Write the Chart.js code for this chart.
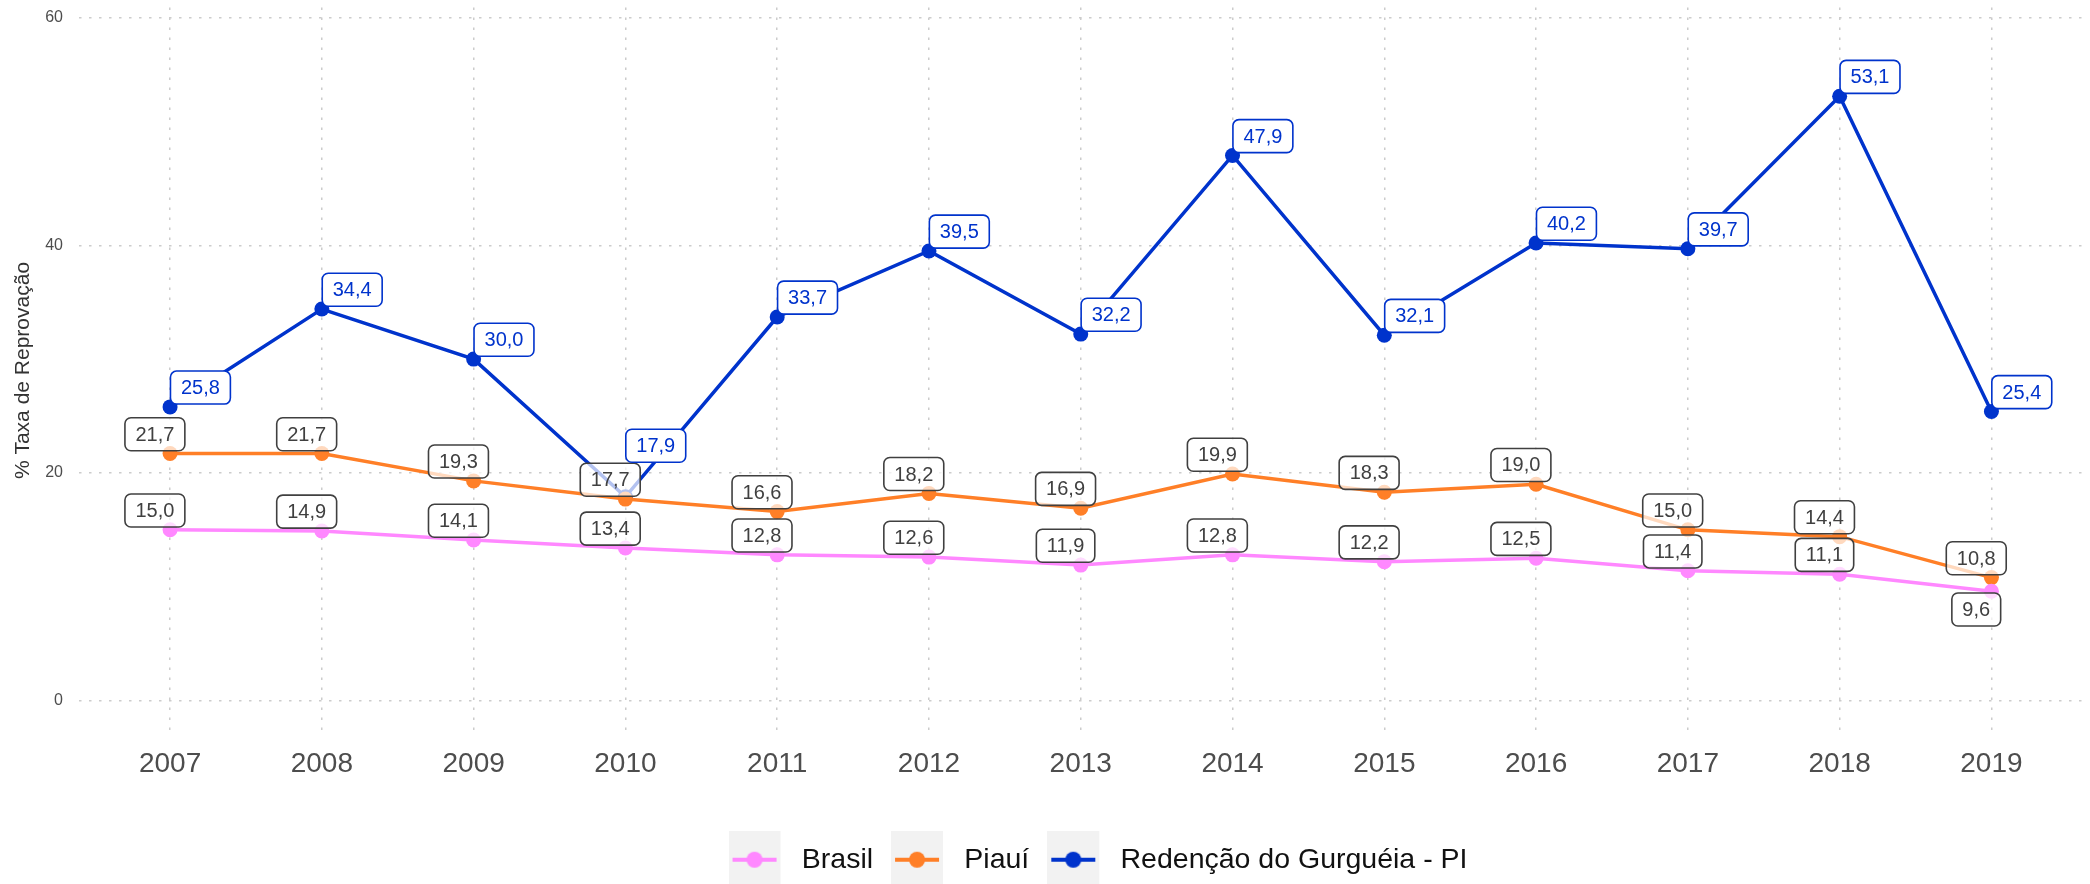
<!DOCTYPE html>
<html lang="pt-BR">
<head>
<meta charset="utf-8">
<title>Taxa de Reprovação</title>
<script src="https://cdn.jsdelivr.net/npm/chart.js@4.4.1/dist/chart.umd.min.js"></script>
<style>
  html, body { margin: 0; padding: 0; background: #fff; }
  #chart { display: block; }
</style>
</head>
<body>
<canvas id="chart" width="2090" height="884"></canvas>
<script>
const anos = [2007, 2008, 2009, 2010, 2011, 2012, 2013, 2014, 2015, 2016, 2017, 2018, 2019];
const brasil = [15.0, 14.9, 14.1, 13.4, 12.8, 12.6, 11.9, 12.8, 12.2, 12.5, 11.4, 11.1, 9.6];
const piaui = [21.7, 21.7, 19.3, 17.7, 16.6, 18.2, 16.9, 19.9, 18.3, 19.0, 15.0, 14.4, 10.8];
const redencao = [25.8, 34.4, 30.0, 17.9, 33.7, 39.5, 32.2, 47.9, 32.1, 40.2, 39.7, 53.1, 25.4];
const yTicks = [0, 20, 40, 60];

const FONT = "'Liberation Sans', Arial, Helvetica, sans-serif";
const ROSA = '#ff88ff';
const LARANJA = '#ff7f27';
const AZUL = '#0033cc';
const CINZA = '#404040';

const fmt = v => v.toFixed(1).replace('.', ',');
const toPoints = values => values.map((v, i) => ({x: anos[i], y: v}));

// legend key: grey background square with a line and a dot
function legendKey(color) {
  const c = document.createElement('canvas');
  c.width = 59;
  c.height = 58;
  const g = c.getContext('2d');
  g.fillStyle = '#f2f2f2';
  g.fillRect(0, 0, 52, 58);
  g.strokeStyle = color;
  g.lineWidth = 4;
  g.beginPath();
  g.moveTo(4, 29);
  g.lineTo(48, 29);
  g.stroke();
  g.fillStyle = color;
  g.beginPath();
  g.arc(26, 29, 8, 0, Math.PI * 2);
  g.fill();
  return c;
}

function overlaps(a, b) {
  return a.l < b.r && a.r > b.l && a.t < b.b && a.b > b.t;
}

// boxed value labels, drawn after the lines
const valueLabels = {
  id: 'valueLabels',
  afterDatasetsDraw(chart) {
    const ctx = chart.ctx;
    const xs = chart.scales.x;
    const ys = chart.scales.y;
    const placed = [];
    ctx.save();
    ctx.font = '20px ' + FONT;
    ctx.textAlign = 'center';
    ctx.textBaseline = 'middle';
    for (const di of [1, 0, 2]) {
      const ds = chart.data.datasets[di];
      const lab = ds.valueLabel;
      ds.data.forEach(p => {
        const text = fmt(p.y);
        const w = ctx.measureText(text).width + 21;
        const h = 33;
        const cx = xs.getPixelForValue(p.x + lab.nudgeX);
        let cy = ys.getPixelForValue(p.y + 1.7);
        let r = {l: cx - w / 2, r: cx + w / 2, t: cy - h / 2, b: cy + h / 2};
        const hit = placed.find(o => overlaps(r, o));
        if (hit) {
          if (lab.dodge === 'below') {
            cy = ys.getPixelForValue(p.y - 1.6);
          } else {
            cy = hit.t - h / 2 - 1;
          }
          r = {l: cx - w / 2, r: cx + w / 2, t: cy - h / 2, b: cy + h / 2};
        }
        placed.push(r);

        ctx.beginPath();
        ctx.roundRect(r.l, r.t, w, h, 6);
        ctx.fillStyle = lab.fill;
        ctx.fill();
        ctx.lineWidth = 1.6;
        ctx.strokeStyle = lab.color;
        ctx.stroke();
        ctx.fillStyle = lab.color;
        ctx.fillText(text, cx, cy + 1);
      });
    }
    ctx.restore();
  }
};

// move the legend row a little to the right
const legendShift = {
  id: 'legendShift',
  afterLayout(chart) {
    if (chart.legend) {
      chart.legend.left += 53;
      chart.legend.right += 53;
    }
  }
};

function serie(label, values, color, valueLabel) {
  return {
    label,
    data: toPoints(values),
    borderColor: color,
    backgroundColor: color,
    borderWidth: 3.5,
    pointRadius: 7.5,
    pointHoverRadius: 7.5,
    pointBorderWidth: 0,
    tension: 0,
    valueLabel
  };
}

new Chart(document.getElementById('chart'), {
  type: 'line',
  data: {
    datasets: [
      serie('Brasil', brasil, ROSA, {nudgeX: -0.1, color: CINZA, fill: 'rgba(255,255,255,0.7)', dodge: 'below'}),
      serie('Piauí', piaui, LARANJA, {nudgeX: -0.1, color: CINZA, fill: 'rgba(255,255,255,0.7)', dodge: 'below'}),
      serie('Redenção do Gurguéia - PI', redencao, AZUL, {nudgeX: 0.2, color: AZUL, fill: '#ffffff', dodge: 'up'})
    ]
  },
  options: {
    responsive: false,
    animation: false,
    devicePixelRatio: 1,
    layout: {padding: {top: 7, left: 0, right: 0, bottom: 0}},
    scales: {
      x: {
        type: 'linear',
        min: 2006.4,
        max: 2019.6,
        afterBuildTicks: s => { s.ticks = anos.map(v => ({value: v})); },
        afterFit: s => { s.height = 94; },
        grid: {color: '#cccccc', lineWidth: 1.5, drawTicks: false},
        border: {display: false, dash: [2.5, 7.5]},
        ticks: {
          color: '#4d4d4d',
          font: {size: 28, family: FONT},
          padding: 14,
          maxRotation: 0,
          autoSkip: false,
          callback: v => String(v)
        }
      },
      y: {
        min: -2.9,
        max: 60.9,
        afterBuildTicks: s => { s.ticks = yTicks.map(v => ({value: v})); },
        afterFit: s => {
          s.width = 79;
          s.paddingTop = 0;
          s.paddingBottom = 0;
        },
        grid: {color: '#cccccc', lineWidth: 1.5, drawTicks: false},
        border: {display: false, dash: [2.5, 7.5]},
        ticks: {
          color: '#4d4d4d',
          font: {size: 16, family: FONT},
          padding: 16,
          callback: v => String(v)
        },
        title: {
          display: true,
          text: '% Taxa de Reprovação',
          color: '#333333',
          font: {size: 21, family: FONT},
          padding: {top: 11, bottom: 0}
        }
      }
    },
    plugins: {
      tooltip: {enabled: false},
      legend: {
        position: 'bottom',
        labels: {
          usePointStyle: true,
          pointStyleWidth: 59,
          padding: 18,
          color: '#111111',
          font: {size: 28.5, family: FONT},
          generateLabels: chart => chart.data.datasets.map((ds, i) => ({
            text: ds.label,
            pointStyle: legendKey(ds.borderColor),
            datasetIndex: i,
            fontColor: '#111111',
            fillStyle: 'transparent',
            strokeStyle: 'transparent',
            lineWidth: 0,
            hidden: false
          }))
        }
      }
    }
  },
  plugins: [valueLabels, legendShift]
});
</script>
</body>
</html>
